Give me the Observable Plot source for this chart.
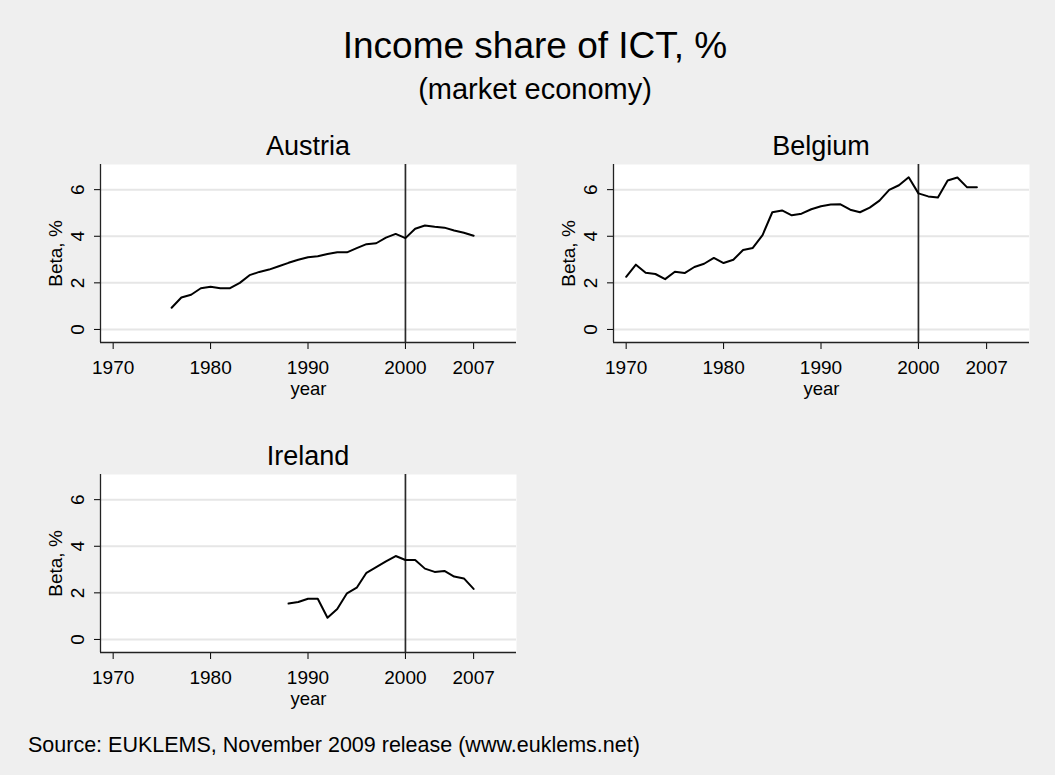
<!DOCTYPE html>
<html>
<head>
<meta charset="utf-8">
<script src="https://cdn.jsdelivr.net/npm/d3@7"></script>
<script src="https://cdn.jsdelivr.net/npm/@observablehq/plot@0.6"></script>
<style>
  html, body { margin: 0; padding: 0; background: #efefef; }
  #chart { position: relative; width: 1055px; height: 775px; background: #efefef; overflow: hidden;
           font-family: "Liberation Sans", Arial, Helvetica, sans-serif; color: #000; }
  .t { position: absolute; white-space: nowrap; line-height: 1; text-align: center; }
  .panel { position: absolute; }
</style>
</head>
<body>
<div id="chart"></div>
<script>
// ---------- data ----------
const titleText = "Income share of ICT, %";
const subtitleText = "(market economy)";
const sourceText = "Source: EUKLEMS, November 2009 release (www.euklems.net)";
const xLabel = "year";
const yLabel = "Beta, %";

const countries = ["Austria", "Belgium", "Ireland"];

const austriaYears = [1976,1977,1978,1979,1980,1981,1982,1983,1984,1985,1986,1987,1988,1989,1990,1991,
                      1992,1993,1994,1995,1996,1997,1998,1999,2000,2001,2002,2003,2004,2005,2006,2007];
const austriaBeta  = [0.93,1.37,1.49,1.77,1.83,1.77,1.77,2.00,2.33,2.47,2.57,2.71,2.86,2.99,3.10,3.14,
                      3.24,3.31,3.31,3.49,3.66,3.70,3.94,4.10,3.92,4.32,4.46,4.41,4.37,4.25,4.15,4.02];

const belgiumYears = [1970,1971,1972,1973,1974,1975,1976,1977,1978,1979,1980,1981,1982,1983,1984,1985,1986,
                      1987,1988,1989,1990,1991,1992,1993,1994,1995,1996,1997,1998,1999,2000,2001,2002,2003,
                      2004,2005,2006];
const belgiumBeta  = [2.26,2.78,2.43,2.38,2.16,2.48,2.42,2.68,2.82,3.07,2.85,2.99,3.41,3.50,4.05,5.03,5.11,
                      4.90,4.97,5.16,5.29,5.36,5.37,5.14,5.03,5.23,5.53,5.99,6.19,6.53,5.84,5.71,5.66,6.39,
                      6.52,6.10,6.10];

const irelandYears = [1988,1989,1990,1991,1992,1993,1994,1995,1996,1997,1998,1999,2000,2001,2002,2003,
                      2004,2005,2006,2007];
const irelandBeta  = [1.54,1.61,1.75,1.75,0.93,1.31,1.98,2.22,2.86,3.10,3.35,3.58,3.41,3.41,3.04,2.90,
                      2.94,2.70,2.62,2.17];

const xTicks = [1970, 1980, 1990, 2000, 2007];
const yTicks = [0, 2, 4, 6];
const breakYear = [2000];
const xDomain = [1968.7, 2011.4];
const yDomain = [-0.56, 7.08];

// ---------- layout ----------
const FONT = '"Liberation Sans", Arial, Helvetica, sans-serif';
const chart = document.getElementById("chart");

function addText(txt, cx, baseline, size, align) {
  const d = document.createElement("div");
  d.className = "t";
  d.textContent = txt;
  d.style.fontSize = size + "px";
  d.style.top = (baseline - 0.8465 * size) + "px";
  if (align === "left") {
    d.style.left = cx + "px";
    d.style.textAlign = "left";
  } else {
    d.style.left = (cx - 500) + "px";
    d.style.width = "1000px";
  }
  chart.appendChild(d);
}

function panel(years, values) {
  const data = years.map((y, i) => ({year: y, beta: values[i]}));
  return Plot.plot({
    width: 506, height: 248,
    marginLeft: 80, marginRight: 10, marginTop: 10, marginBottom: 60,
    style: {background: "transparent", fontFamily: FONT, fontSize: "19px", color: "#000"},
    x: {domain: xDomain},
    y: {domain: yDomain},
    marks: [
      Plot.frame({fill: "white", stroke: null}),
      Plot.gridY(yTicks, {stroke: "#e6e6e6", strokeOpacity: 1, strokeWidth: 2}),
      Plot.ruleX(breakYear, {stroke: "#2a2a2a", strokeWidth: 1.7}),
      Plot.axisX(xTicks, {tickSize: 7, tickPadding: 11, tickFormat: d => String(d),
        label: null, fontSize: 19}),
      Plot.axisX({ticks: [], tickSize: 0, label: xLabel, labelAnchor: "center", labelArrow: "none",
        labelOffset: 52, fontSize: 18.5}),
      Plot.axisY(yTicks, {tickSize: 6, tickPadding: 10.5, tickRotate: -90,
        label: yLabel, labelAnchor: "center", labelArrow: "none", labelOffset: 52, fontSize: 19}),
      Plot.ruleX([xDomain[0]], {stroke: "#222", strokeWidth: 1.3}),
      Plot.ruleY([yDomain[0]], {stroke: "#222", strokeWidth: 1.3}),
      Plot.line(data, {x: "year", y: "beta", stroke: "#000", strokeWidth: 2})
    ]
  });
}

function place(el, left, top) {
  el.classList.add("panel");
  el.style.left = left + "px";
  el.style.top = top + "px";
  chart.appendChild(el);
}

// titles
addText(titleText, 535, 58.5, 37);
addText(subtitleText, 535, 99.5, 29);

// panels (plot area: x 100..516, y 164..342)
place(panel(austriaYears, austriaBeta), 20, 154);
place(panel(belgiumYears, belgiumBeta), 533, 154);
place(panel(irelandYears, irelandBeta), 20, 464);

addText(countries[0], 308, 156, 27);
addText(countries[1], 821, 156, 27);
addText(countries[2], 308, 466, 27);

addText(sourceText, 28, 753.5, 21.5, "left");
</script>
</body>
</html>
